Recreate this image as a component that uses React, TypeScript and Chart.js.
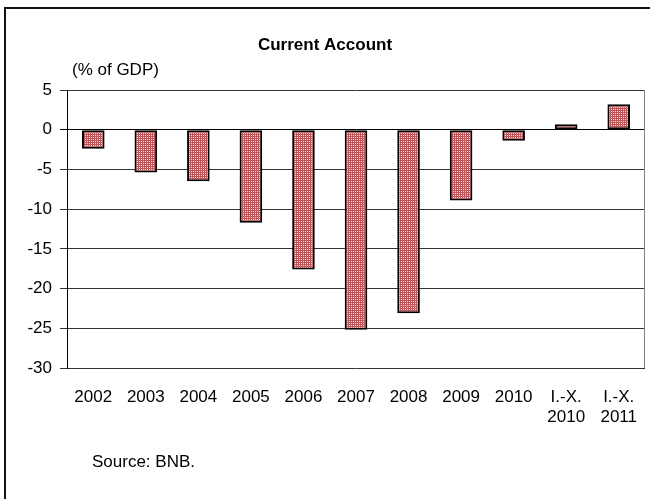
import React, { useEffect, useRef } from "react";
import { Chart, registerables } from "chart.js";

Chart.register(...registerables);

const categories: (string | string[])[] = [
  "2002", "2003", "2004", "2005", "2006", "2007", "2008", "2009", "2010",
  ["I.-X.", "2010"], ["I.-X.", "2011"],
];
const currentAccount = [-2.4, -5.4, -6.5, -11.7, -17.6, -25.2, -23.1, -8.9, -1.4, 0.7, 3.2];
const yMin = -30;
const yMax = 5;
const yStep = 5;
const titleText = "Current Account";
const unitText = "(% of GDP)";
const sourceText = "Source: BNB.";

const FONT = "'Liberation Sans', Arial, sans-serif";

function makePattern(): CanvasPattern | string {
  const c = document.createElement("canvas");
  c.width = 2;
  c.height = 2;
  const g = c.getContext("2d");
  if (!g) return "#c87070";
  g.fillStyle = "#bd5658";
  g.fillRect(0, 0, 2, 2);
  g.fillStyle = "#f6d6d6";
  g.fillRect(1, 1, 1, 1);
  const p = g.createPattern(c, "repeat");
  return p || "#c87070";
}

const decorPlugin = {
  id: "decor",
  beforeDraw(chart: any) {
    const ctx = chart.ctx;
    ctx.save();
    ctx.fillStyle = "#ffffff";
    ctx.fillRect(0, 0, chart.width, chart.height);
    ctx.restore();
  },
  afterDraw(chart: any) {
    const ctx = chart.ctx;
    const a = chart.chartArea;
    ctx.save();
    // outer frame
    ctx.strokeStyle = "#111";
    ctx.lineWidth = 2;
    ctx.beginPath();
    ctx.moveTo(5, chart.height + 5);
    ctx.lineTo(5, 8);
    ctx.lineTo(chart.width + 5, 8);
    ctx.stroke();
    // plot area right border
    ctx.strokeStyle = "#808080";
    ctx.lineWidth = 1;
    ctx.beginPath();
    ctx.moveTo(Math.round(a.right) - 0.5, a.top);
    ctx.lineTo(Math.round(a.right) - 0.5, a.bottom);
    ctx.stroke();
    // texts
    ctx.fillStyle = "#000";
    ctx.textBaseline = "alphabetic";
    ctx.font = `bold 17px ${FONT}`;
    ctx.textAlign = "center";
    ctx.fillText(titleText, 325, 50);
    ctx.font = `17px ${FONT}`;
    ctx.textAlign = "left";
    ctx.fillText(unitText, 72, 75);
    ctx.fillText(sourceText, 92, 467);
    ctx.restore();
  },
};

export default function App() {
  const ref = useRef<HTMLCanvasElement | null>(null);

  useEffect(() => {
    if (!ref.current) return;
    const chart = new Chart(ref.current, {
      type: "bar",
      data: {
        labels: categories,
        datasets: [
          {
            data: currentAccount,
            backgroundColor: makePattern() as any,
            borderColor: "#000",
            borderWidth: 2,
            borderSkipped: false,
            barPercentage: 0.43,
            categoryPercentage: 1,
          },
        ],
      },
      options: {
        animation: false,
        responsive: false,
        maintainAspectRatio: false,
        devicePixelRatio: 1,
        layout: { padding: { top: 90, right: 5, left: 0, bottom: 0 } },
        plugins: {
          legend: { display: false },
          title: { display: false },
          tooltip: { enabled: false },
        },
        scales: {
          x: {
            grid: { display: false, drawTicks: false },
            border: { display: false },
            ticks: {
              color: "#000",
              font: { family: FONT, size: 17 },
              padding: 19,
              maxRotation: 0,
              minRotation: 0,
              autoSkip: false,
            },
            afterFit(scale: any) {
              scale.height = 131;
              scale.paddingLeft = 0;
              scale.paddingRight = 0;
            },
          },
          y: {
            min: yMin,
            max: yMax,
            ticks: {
              stepSize: yStep,
              color: "#000",
              font: { family: FONT, size: 17 },
              padding: 8,
            },
            grid: {
              color: (c: any) => (c.tick && c.tick.value === 0 ? "#000" : "#333"),
              lineWidth: 1,
              tickLength: 7,
            },
            border: { display: true, color: "#000", width: 1 },
            afterFit(scale: any) {
              scale.width = 67;
              scale.paddingTop = 0;
              scale.paddingBottom = 0;
            },
          },
        },
      },
      plugins: [decorPlugin],
    });
    return () => chart.destroy();
  }, []);

  return (
    <div style={{ position: "absolute", left: 0, top: 0, width: 650, height: 499, overflow: "hidden" }}>
      <canvas ref={ref} width={650} height={499} style={{ display: "block", width: 650, height: 499 }} />
    </div>
  );
}
